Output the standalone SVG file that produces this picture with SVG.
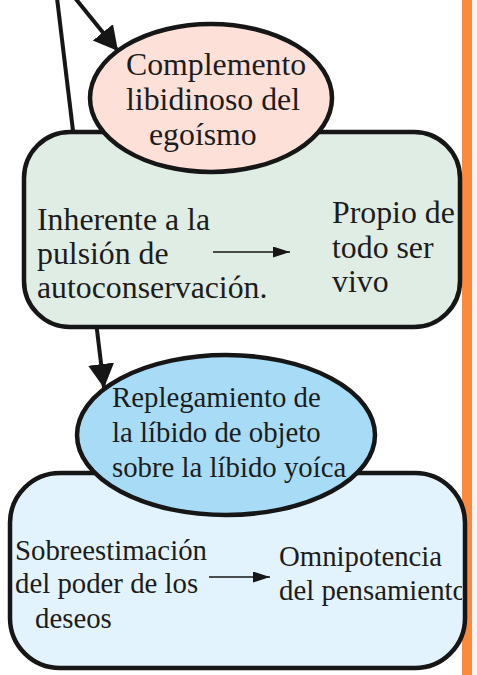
<svg xmlns="http://www.w3.org/2000/svg" width="477" height="675" viewBox="0 0 477 675">
<style>
.t{font-family:"Liberation Serif","Times New Roman",serif;fill:#1c1c1c}
.big{font-size:31.8px}
.sm{font-size:28.8px}
.node{stroke:#161616;stroke-width:4.5}
.conn{stroke:#161616;stroke-width:4;fill:none}
.thin{stroke:#161616;stroke-width:1.6;fill:none}
</style>
<defs>
<marker id="ah" markerUnits="userSpaceOnUse" markerWidth="26" markerHeight="28" refX="24" refY="13" orient="auto" viewBox="0 0 26 28">
<path d="M0,0 L24,13 L0,26 z" fill="#161616"/>
</marker>
<marker id="as" markerUnits="userSpaceOnUse" markerWidth="18" markerHeight="12" refX="17" refY="5.5" orient="auto" viewBox="0 0 18 12">
<path d="M0,0 L17,5.5 L0,11 z" fill="#161616"/>
</marker>
<clipPath id="cb"><rect x="10" y="473" width="452" height="195" rx="50"/></clipPath>
</defs>
<rect x="0" y="0" width="477" height="675" fill="#ffffff"/>
<rect x="472" y="0" width="5" height="675" fill="#fdf2f2"/>
<rect x="462" y="0" width="10" height="675" fill="#f98a3e"/>
<g id="connectors">
<line class="conn" x1="57" y1="-2" x2="104" y2="388" marker-end="url(#ah)"/>
<line class="conn" x1="75" y1="-2" x2="118" y2="51" marker-end="url(#ah)"/>
</g>
<g id="node-autoconservacion">
<rect class="node" x="24" y="132" width="436" height="195" rx="46" fill="#e0ede4"/>
<text class="t big" x="37" y="230">Inherente a la</text>
<text class="t big" x="37" y="264">pulsión de</text>
<text class="t big" x="37" y="298">autoconservación.</text>
<line class="thin" x1="213" y1="252" x2="290" y2="252" marker-end="url(#as)"/>
<text class="t big" x="332" y="223">Propio de</text>
<text class="t big" x="332" y="258">todo ser</text>
<text class="t big" x="332" y="292">vivo</text>
</g>
<g id="node-complemento">
<ellipse class="node" cx="211" cy="98" rx="121" ry="74" fill="#fde1d8"/>
<text class="t big" x="126" y="75">Complemento</text>
<text class="t big" x="126" y="110">libidinoso del</text>
<text class="t big" x="149" y="145">egoísmo</text>
</g>
<g id="node-omnipotencia">
<rect class="node" x="10" y="473" width="455" height="195" rx="50" fill="#e3f3fd"/>
<text class="t sm" x="15" y="560">Sobreestimación</text>
<text class="t sm" x="15" y="593">del poder de los</text>
<text class="t sm" x="35" y="628">deseos</text>
<line class="thin" x1="209" y1="577" x2="270" y2="577" marker-end="url(#as)"/>
<text class="t sm" x="279" y="566">Omnipotencia</text>
<g clip-path="url(#cb)"><text class="t sm" x="279" y="600">del pensamiento</text></g>
</g>
<g id="node-replegamiento">
<ellipse class="node" cx="226" cy="435" rx="149" ry="80" fill="#a8dcf6"/>
<text class="t sm" x="112" y="407">Replegamiento de</text>
<text class="t sm" x="112" y="442">la líbido de objeto</text>
<text class="t sm" x="112" y="477">sobre la líbido yoíca</text>
</g>
</svg>
